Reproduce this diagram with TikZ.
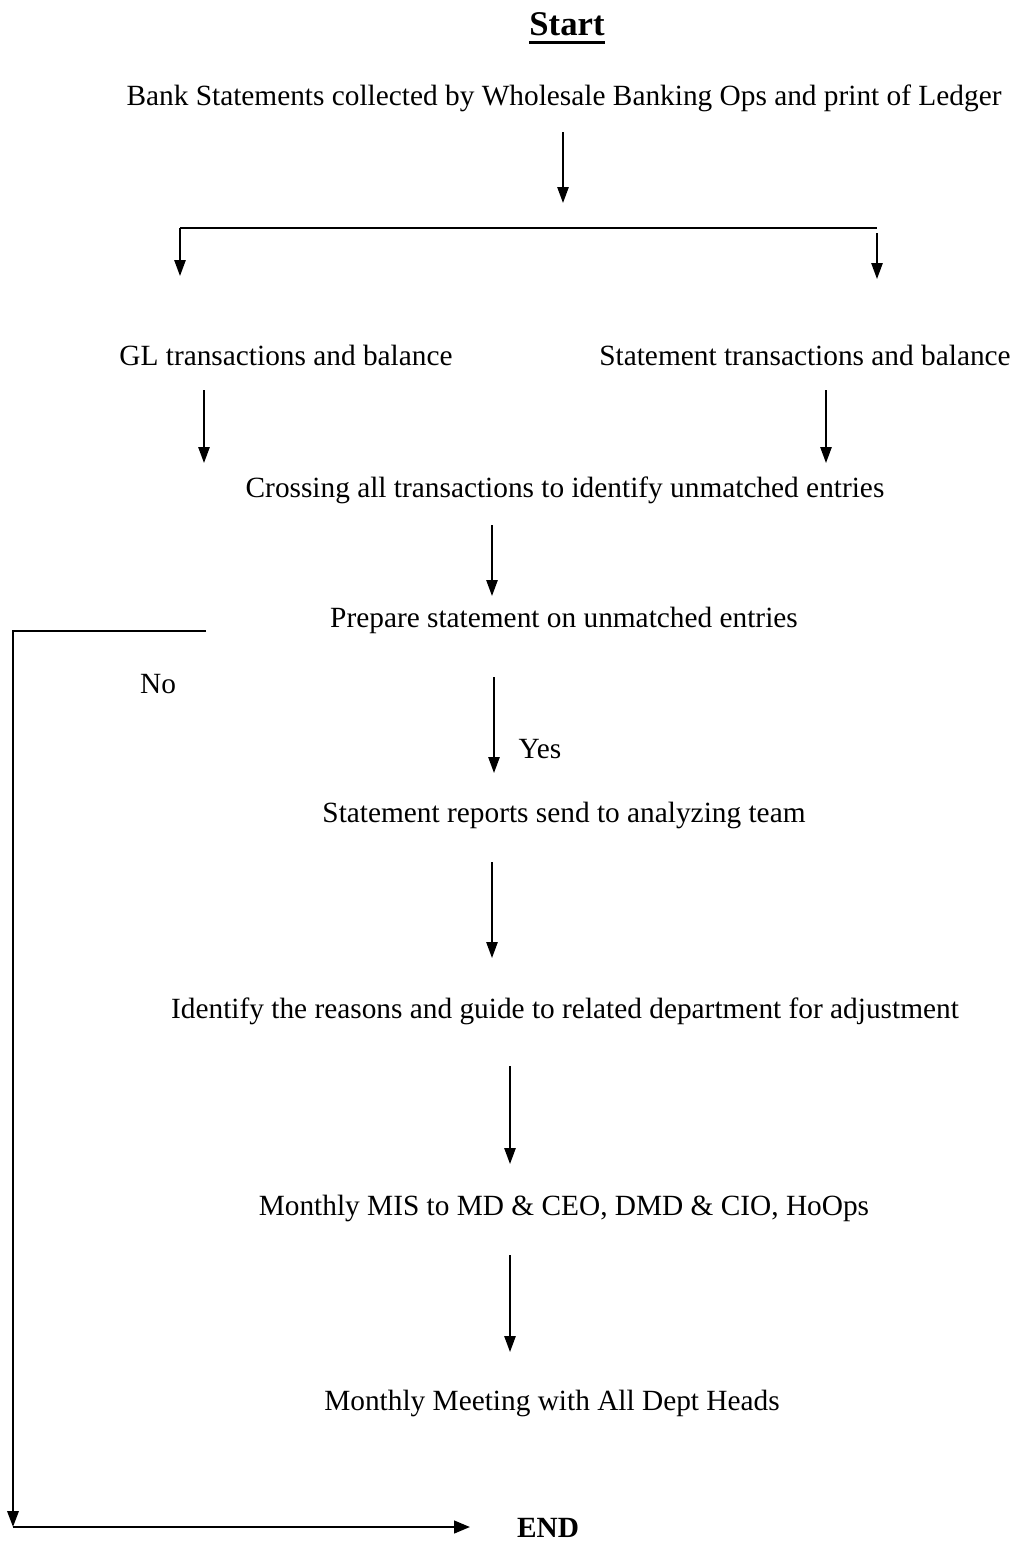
\documentclass[tikz,border=0pt]{standalone}
\usepackage{fontspec}
\setmainfont{Liberation Serif}
\usetikzlibrary{arrows.meta}

\begin{document}
\begin{tikzpicture}[
  x=0.75pt, y=-0.75pt,
  txt/.style={inner sep=0pt, anchor=base, font=\fontsize{22}{26}\selectfont},
  boldtxt/.style={inner sep=0pt, anchor=base, font=\bfseries\fontsize{22}{26}\selectfont},
  flow/.style={line width=1.25pt, -{Triangle[length=12pt,width=8.5pt]}},
  plain/.style={line width=1.25pt},
  loopline/.style={line width=1.8pt},
]
\useasboundingbox (0,0) rectangle (1014,1545);

% titles and steps
\node[inner sep=0pt, anchor=base, font=\bfseries\fontsize{26}{30}\selectfont] (start) at (567,36) {Start};
\draw[line width=2.6pt] ([yshift=-5pt]start.base west) -- ([yshift=-5pt]start.base east);

\node[txt] (bank) at (564,105) {Bank Statements collected by Wholesale Banking Ops and print of Ledger};
\node[txt] (gl) at (286,365) {GL transactions and balance};
\node[txt] (stmt) at (805,365) {Statement transactions and balance};
\node[txt] (cross) at (565,497) {Crossing all transactions to identify unmatched entries};
\node[txt] (prep) at (564,627) {Prepare statement on unmatched entries};
\node[txt] (no) at (158,693) {No};
\node[txt] (yes) at (540,758) {Yes};
\node[txt] (send) at (564,822) {Statement reports send to analyzing team};
\node[txt] (ident) at (565,1018) {Identify the reasons and guide to related department for adjustment};
\node[txt] (mis) at (564,1215) {Monthly MIS to MD \& CEO, DMD \& CIO, HoOps};
\node[txt] (meet) at (552,1410) {Monthly Meeting with All Dept Heads};
\node[boldtxt] (end) at (548,1537) {END};

% connector end points
\coordinate (b1) at (563,132);  \coordinate (b2) at (563,203);
\coordinate (sL) at (180,228);  \coordinate (sR) at (877,228);
\coordinate (sLd) at (180,276); \coordinate (sRt) at (877,233); \coordinate (sRd) at (877,279);
\coordinate (g1) at (204,390);  \coordinate (g2) at (204,463);
\coordinate (t1) at (826,390);  \coordinate (t2) at (826,463);
\coordinate (c1) at (492,525);  \coordinate (c2) at (492,596);
\coordinate (p1) at (494,677);  \coordinate (p2) at (494,773);
\coordinate (s1) at (492,862);  \coordinate (s2) at (492,958);
\coordinate (i1) at (510,1066); \coordinate (i2) at (510,1164);
\coordinate (m1) at (510,1255); \coordinate (m2) at (510,1352);
\coordinate (n0) at (206,631);  \coordinate (n1) at (13,631);
\coordinate (n2) at (13,1527);  \coordinate (n3) at (470,1527);

% main flow
\draw[flow] (b1) -- (b2);
\draw[plain] (sL) -- (sR);
\draw[flow] (sL) -- (sLd);
\draw[flow] (sRt) -- (sRd);
\draw[flow] (g1) -- (g2);
\draw[flow] (t1) -- (t2);
\draw[flow] (c1) -- (c2);
\draw[flow] (p1) -- (p2);
\draw[flow] (s1) -- (s2);
\draw[flow] (i1) -- (i2);
\draw[flow] (m1) -- (m2);

% "No" branch running to the end
\draw[loopline, -{Triangle[length=12pt,width=8.5pt]}] (n0) -- (n1) -- (n2);
\draw[loopline, -{Triangle[length=12pt,width=9.5pt]}] (n2) -- (n3);
\end{tikzpicture}
\end{document}
